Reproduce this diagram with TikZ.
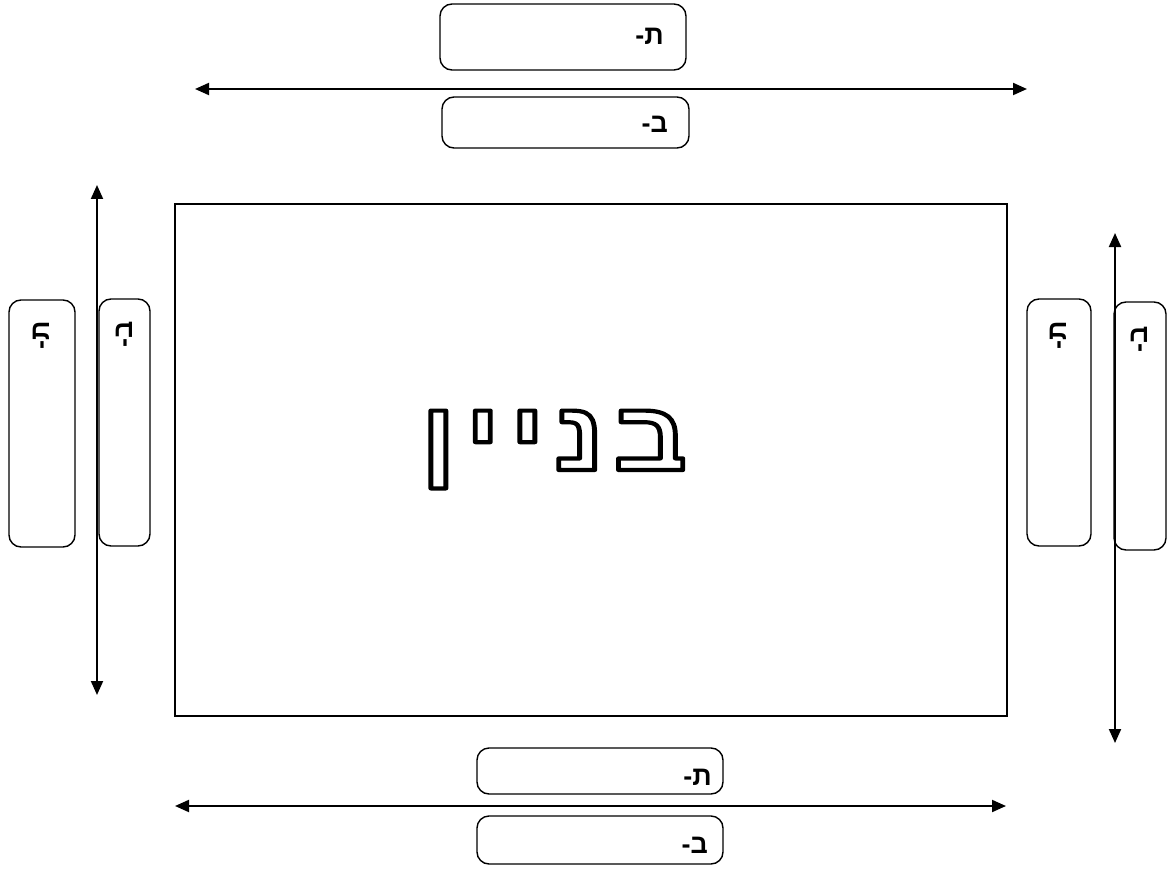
\documentclass[tikz,border=0pt]{standalone}
\usepackage{fontspec}
\usepackage{graphicx}
\usetikzlibrary{arrows.meta}
\TeXXeTstate=1
\newfontfamily\hebfont[Script=Hebrew]{Liberation Sans}
\newfontfamily\titlefont[Script=Hebrew,LetterSpace=9]{Liberation Sans}
\newcommand\hollowtext[1]{\special{pdf:literal direct 1 Tr 4.2 w 1 j}#1\special{pdf:literal direct 0 Tr}}
\tikzset{
  rbox/.style={draw, line width=1.4pt, rounded corners=12pt, inner sep=0pt},
  lbl/.style={font=\hebfont\bfseries\fontsize{27}{30}\selectfont, inner sep=0pt},
  dbl/.style={line width=2pt, {Triangle[length=14pt,width=12pt]}-{Triangle[length=14pt,width=12pt]}},
}
\begin{document}
\begin{tikzpicture}[x=1pt,y=-1pt]
\useasboundingbox (0,0) rectangle (1175,869);
% main building
\node[draw, line width=1.4pt, minimum width=832pt, minimum height=512pt, inner sep=0pt] (bld) at (591,460) {};
\node[font=\titlefont\bfseries\fontsize{98}{110}\selectfont, inner sep=0pt, anchor=base] (title) at (554,470)
  {\scalebox{1.16}[1]{\hollowtext{\beginR בניין\endR}}};
% top
\node[rbox, minimum width=246pt, minimum height=66pt] (tt) at (563,37) {};
\node[lbl, anchor=east] (ttl) at (664,36) {\beginR ת-\endR};
\coordinate (ta) at (195,89); \coordinate (tb) at (1027,89);
\draw[dbl] (ta) -- (tb);
\node[rbox, minimum width=247pt, minimum height=51pt] (tbx) at (565.5,122.5) {};
\node[lbl, anchor=east] (tbl) at (668,124) {\beginR ב-\endR};
% bottom
\node[rbox, minimum width=246pt, minimum height=46pt] (bt) at (600,771) {};
\node[lbl, anchor=east] (btl) at (712,777) {\beginR ת-\endR};
\coordinate (ba) at (175,806); \coordinate (bb) at (1006,806);
\draw[dbl] (ba) -- (bb);
\node[rbox, minimum width=246pt, minimum height=48pt] (bbx) at (600,840) {};
\node[lbl, anchor=east] (bbl) at (708,845) {\beginR ב-\endR};
% left
\node[rbox, minimum width=66pt, minimum height=247pt] (lt) at (42,423.5) {};
\node[lbl, rotate=90, anchor=east] (ltl) at (41,321) {\beginR ת-\endR};
\coordinate (la) at (97,185); \coordinate (lb) at (97,695);
\draw[dbl] (la) -- (lb);
\node[rbox, minimum width=51pt, minimum height=247pt] (lbx) at (124.5,422.5) {};
\node[lbl, rotate=90, anchor=east] (lbl) at (124,321) {\beginR ב-\endR};
% right
\node[rbox, minimum width=64pt, minimum height=247pt] (rt) at (1059,422.5) {};
\node[lbl, rotate=90, anchor=east] (rtl) at (1058,321) {\beginR ת-\endR};
\coordinate (ra) at (1115,233); \coordinate (rb) at (1115,743);
\draw[dbl] (ra) -- (rb);
\node[rbox, minimum width=52pt, minimum height=248pt] (rbx) at (1140,426) {};
\node[lbl, rotate=90, anchor=east] (rbl) at (1139,326) {\beginR ב-\endR};
\end{tikzpicture}
\end{document}
